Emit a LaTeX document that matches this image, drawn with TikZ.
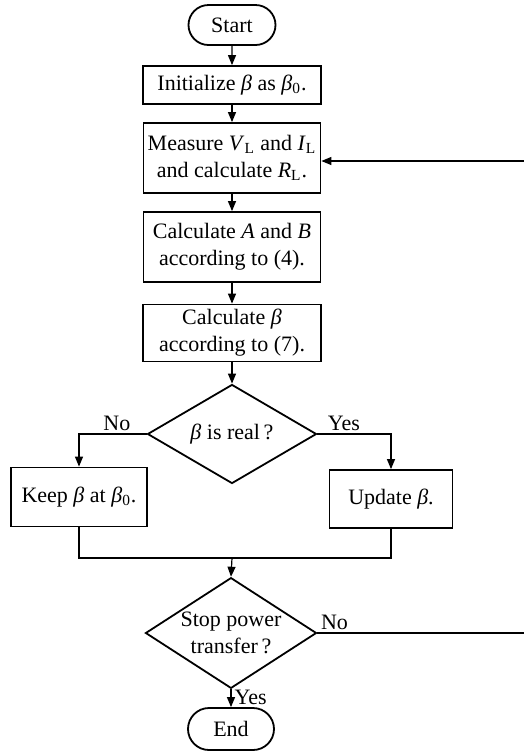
\documentclass[tikz,border=0pt]{standalone}
\usepackage{fontspec}
\setmainfont{Liberation Serif}
\usetikzlibrary{arrows.meta,positioning,shapes.geometric,shapes.misc}
\newcommand{\bt}{\textit{β}}
\newcommand{\bzero}{\textit{β}\textsubscript{0}}

\tikzset{
  terminal/.style={draw, rounded rectangle, line width=0.9pt,
    minimum height=20pt, inner sep=2pt},
  procbox/.style={draw, rectangle, line width=0.9pt, align=center,
    inner sep=2pt},
  decision/.style={draw, diamond, line width=0.9pt, align=center,
    inner sep=-4pt},
  flowarrow/.style={line width=0.6pt, -{Triangle[length=5pt,width=4pt]}},
  flowline/.style={line width=0.6pt},
  lbl/.style={inner sep=1.5pt}
}

\begin{document}
\begin{tikzpicture}[x=0.5pt,y=-0.5pt,font=\fontsize{11}{13.5}\selectfont]
  \useasboundingbox (0,0) rectangle (524,751);

  % Main column
  \node[terminal, minimum width=47.5pt] (start) at (232,25) {Start};
  \node[procbox, minimum width=89pt, minimum height=19pt] (init) at (232,85)
    {Initialize \bt{} as \bzero.};
  \node[procbox, minimum width=88.5pt, minimum height=35pt] (measure) at (232,158)
    {Measure \textit{V}\textsubscript{L} and \textit{I}\textsubscript{L}\\
     and calculate \textit{R}\textsubscript{L}.};
  \node[procbox, minimum width=88.5pt, minimum height=35pt] (calcab) at (232,247)
    {Calculate \textit{A} and \textit{B}\\according to (4).};
  \node[procbox, minimum width=89pt, minimum height=28.5pt] (calcbeta) at (232,333)
    {Calculate \bt\\according to (7).};
  \node[decision, minimum width=84.5pt, minimum height=49.5pt] (real) at (232,434)
    {\bt{} is real\,?};

  % Branches
  \node[procbox, minimum width=68pt, minimum height=29.5pt] (keep) at (79,497)
    {Keep \bt{} at \bzero.};
  \node[procbox, minimum width=61.5pt, minimum height=29pt] (update) at (391,499)
    {Update \bt.};

  % Stop test and end
  \node[decision, minimum width=85.5pt, minimum height=50pt] (stop) at (231,633)
    {Stop power\\transfer\,?};
  \node[terminal, minimum width=47pt, minimum height=21pt] (end) at (231,729) {End};

  % Connectors
  \draw[flowarrow] (start) -- (init);
  \draw[flowarrow] (init) -- (measure);
  \draw[flowarrow] (measure) -- (calcab);
  \draw[flowarrow] (calcab) -- (calcbeta);
  \draw[flowarrow] (calcbeta) -- (real);
  \draw[flowarrow] (real.west) -| node[lbl, above, pos=0.22] (nolbl) {No} (keep.north);
  \draw[flowarrow] (real.east) -| node[lbl, above, pos=0.18] (yeslbl) {Yes} (update.north);

  % Merge
  \coordinate (merge) at (232,558);
  \draw[flowline] (keep.south) |- (merge) -| (update.south);
  \draw[flowarrow] (merge) -- (stop.north);

  % Exit and feedback loop
  \draw[flowarrow] (stop.south) -- node[lbl, right, pos=0.45] (yes2lbl) {Yes} (end.north);
  \coordinate (loopr) at (545,633);
  \draw[flowarrow] (stop.east) -- node[lbl, above right, pos=0] (no2lbl) {No} (loopr)
    |- ([yshift=-1.5pt]measure.east);
\end{tikzpicture}
\end{document}
